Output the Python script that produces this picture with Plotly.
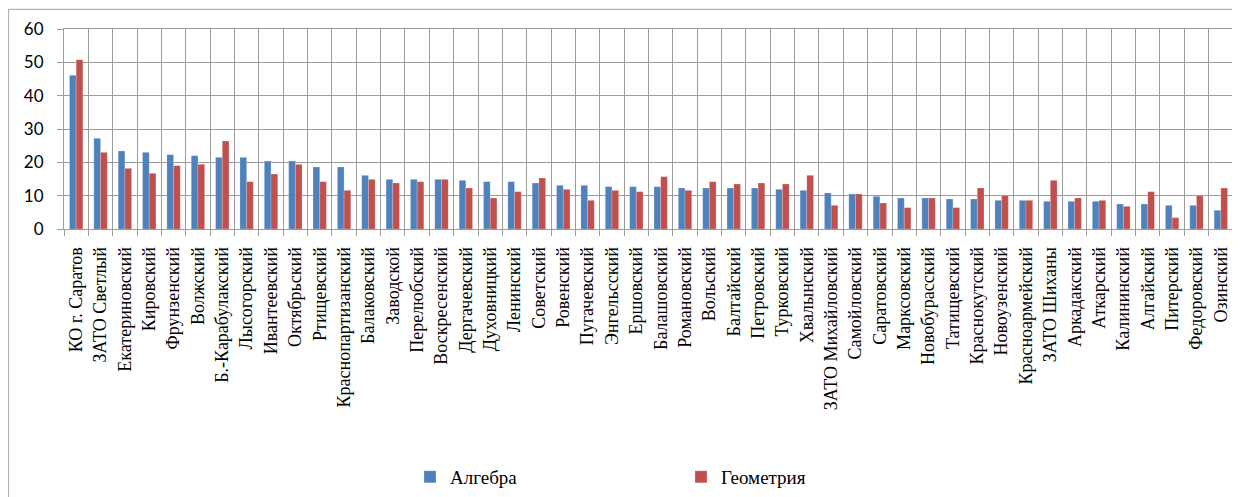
import plotly.graph_objects as go

categories = [
    "КО г. Саратов", "ЗАТО Светлый", "Екатериновский", "Кировский", "Фрунзенский",
    "Волжский", "Б.-Карабулакский", "Лысогорский", "Ивантеевский", "Октябрьский",
    "Ртищевский", "Краснопартизанский", "Балаковский", "Заводской", "Перелюбский",
    "Воскресенский", "Дергачевский", "Духовницкий", "Ленинский", "Советский",
    "Ровенский", "Пугачевский", "Энгельсский", "Ершовский", "Балашовский",
    "Романовский", "Вольский", "Балтайский", "Петровский", "Турковский",
    "Хвалынский", "ЗАТО Михайловский", "Самойловский", "Саратовский", "Марксовский",
    "Новобурасский", "Татищевский", "Краснокутский", "Новоузенский", "Красноармейский",
    "ЗАТО Шиханы", "Аркадакский", "Аткарский", "Калининский", "Алгайский",
    "Питерский", "Федоровский", "Озинский",
]

algebra = [
    46.1, 27.2, 23.4, 23.0, 22.3, 22.0, 21.5, 21.5, 20.4, 20.4,
    18.6, 18.6, 16.1, 14.9, 14.9, 14.9, 14.6, 14.2, 14.2, 13.8,
    13.1, 13.1, 12.7, 12.7, 12.7, 12.3, 12.3, 12.3, 12.3, 11.9,
    11.6, 10.8, 10.5, 9.8, 9.3, 9.3, 9.0, 9.0, 8.6, 8.6,
    8.3, 8.3, 8.3, 7.5, 7.5, 7.1, 7.1, 5.6,
]

geometry = [
    50.8, 23.0, 18.2, 16.7, 19.0, 19.4, 26.4, 14.2, 16.5, 19.4,
    14.2, 11.6, 14.9, 13.8, 14.2, 14.9, 12.3, 9.3, 11.2, 15.3,
    11.9, 8.6, 11.6, 11.2, 15.7, 11.6, 14.2, 13.5, 13.8, 13.5,
    16.1, 7.1, 10.5, 7.8, 6.4, 9.3, 6.4, 12.3, 10.0, 8.6,
    14.6, 9.3, 8.6, 6.8, 11.2, 3.4, 10.0, 12.3,
]

y_ticks = [0, 10, 20, 30, 40, 50, 60]

# page is offset by the browser's 8px body margin
OFF = 8
W, H = 1240 - OFF, 497 - OFF
L, R, T, B = 64 - OFF, 1233 - OFF, 28.7 - OFF, 229.3 - OFF
pw, ph = R - L, B - T

fig = go.Figure()
fig.add_trace(go.Bar(
    x=categories, y=algebra, name="Алгебра",
    marker=dict(color="#4F81BD", line=dict(color="rgba(255,255,255,0.4)", width=0.5)),
))
fig.add_trace(go.Bar(
    x=categories, y=geometry, name="Геометрия",
    marker=dict(color="#C0504D", line=dict(color="rgba(255,255,255,0.4)", width=0.5)),
))

grid = "#9c9c9c"
fig.update_layout(
    width=W, height=H,
    margin=dict(l=L, r=W - R, t=T, b=H - B, pad=0, autoexpand=False),
    paper_bgcolor="white", plot_bgcolor="white",
    barmode="group", bargap=0.45, bargroupgap=0,
    showlegend=True,
    legend=dict(
        orientation="h", x=(402 - L) / pw, xanchor="left",
        y=(B - 470) / ph, yanchor="middle",
        entrywidth=226, entrywidthmode="pixels",
        font=dict(family="Liberation Serif", size=19, color="black"),
        bgcolor="rgba(0,0,0,0)", borderwidth=0,
    ),
    xaxis=dict(
        type="category", tickson="boundaries", showgrid=True, gridcolor=grid, gridwidth=1,
        ticks="outside", ticklen=6, tickcolor=grid, showline=True, linecolor=grid,
        mirror=True, tickangle=-90, ticklabelstandoff=10, automargin=False,
        tickfont=dict(family="Liberation Serif", size=18, color="black"),
        range=[-0.5, len(categories) - 0.5],
    ),
    yaxis=dict(
        range=[0, 60], tickvals=y_ticks, showgrid=True, gridcolor=grid, gridwidth=1,
        ticks="outside", ticklen=6, tickcolor=grid, showline=True, linecolor=grid,
        mirror=True, zeroline=False, ticklabelstandoff=10, automargin=False,
        tickfont=dict(family="Lato", size=17, color="black"),
    ),
    shapes=[dict(
        type="rect", xref="paper", yref="paper",
        x0=(8.5 - OFF - L) / pw, x1=(1250 - OFF - L) / pw,
        y0=(B - (9 - OFF)) / ph, y1=(B - 505) / ph,
        line=dict(color="#b4b4b4", width=1.3), fillcolor="rgba(0,0,0,0)", layer="below",
    )],
)

fig.write_html("out.html")
